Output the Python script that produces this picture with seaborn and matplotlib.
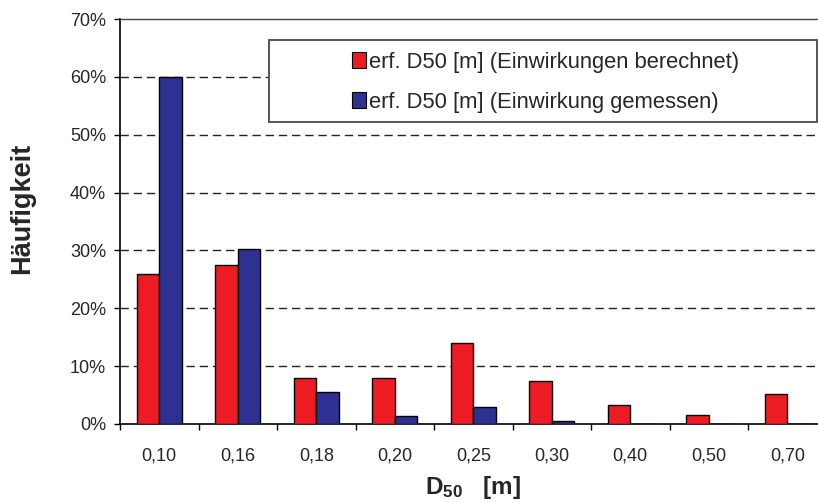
import matplotlib
matplotlib.use("Agg")
import matplotlib.pyplot as plt
from matplotlib.patches import Rectangle
from matplotlib.ticker import FuncFormatter, FixedLocator
import pandas as pd
import seaborn as sns

# D50 classes and relative frequencies in percent
categories = ["0,10", "0,16", "0,18", "0,20", "0,25", "0,30", "0,40", "0,50", "0,70"]
berechnet = [25.9, 27.4, 7.9, 7.9, 14.0, 7.5, 3.3, 1.5, 5.2]
gemessen = [60.0, 30.2, 5.6, 1.3, 2.9, 0.5, 0.0, 0.0, 0.0]
series_names = ["erf. D50 [m] (Einwirkungen berechnet)",
                "erf. D50 [m] (Einwirkung gemessen)"]
y_ticks = [0, 10, 20, 30, 40, 50, 60, 70]

df = pd.DataFrame({
    "D50": categories * 2,
    "Anteil": berechnet + gemessen,
    "Serie": [series_names[0]] * len(categories) + [series_names[1]] * len(categories),
})

sns.set_style("white")
plt.rcParams["font.family"] = ["Liberation Sans", "DejaVu Sans"]
plt.rcParams["mathtext.fontset"] = "custom"
plt.rcParams["mathtext.rm"] = "Liberation Sans"
plt.rcParams["mathtext.bf"] = "Liberation Sans:bold"
plt.rcParams["mathtext.it"] = "Liberation Sans:italic"

fig = plt.figure(figsize=(8.18, 5.03), dpi=100)
ax = fig.add_axes([120 / 818, 79 / 503, 706.5 / 818, 405 / 503])

palette = {series_names[0]: "#ED1C24", series_names[1]: "#2E3192"}
sns.barplot(data=df, x="D50", y="Anteil", hue="Serie", order=categories,
            hue_order=series_names, palette=palette, width=0.577,
            edgecolor="black", linewidth=1.0, saturation=1, ax=ax, zorder=3)

# axis ranges and ticks
ax.set_xlim(-0.5, len(categories) - 0.5)
ax.set_ylim(0, 70)
ax.set_yticks(y_ticks)
ax.yaxis.set_major_formatter(FuncFormatter(lambda v, p: f"{v:.0f}%"))
ax.tick_params(axis="y", which="major", direction="out", length=4, width=1,
               color="black", labelsize=13, pad=6, left=True)

# category boundaries carry the tick marks, labels sit at the centres
ax.xaxis.set_major_locator(FixedLocator([i - 0.5 for i in range(len(categories) + 1)]))
ax.xaxis.set_major_formatter(FuncFormatter(lambda v, p: ""))
ax.xaxis.set_minor_locator(FixedLocator(list(range(len(categories)))))
ax.set_xticklabels(categories, minor=True)
ax.tick_params(axis="x", which="major", direction="out", length=4, width=1,
               color="black", bottom=True)
ax.tick_params(axis="x", which="minor", length=0, labelsize=13, pad=17)

# dashed horizontal gridlines
ax.grid(False)
for v in y_ticks[1:-1]:
    ax.axhline(v, color="#222222", lw=1.0, dashes=(6, 3.5), zorder=1)

for side in ["left", "bottom"]:
    ax.spines[side].set_color("black")
    ax.spines[side].set_linewidth(1.2)
ax.spines["top"].set_color("#444444")
ax.spines["top"].set_linewidth(1.0)
ax.spines["right"].set_visible(False)

ax.set_xlabel(r"$\mathbf{D_{50}}$   [m]", fontsize=17.5, fontweight="bold")
ax.xaxis.set_label_coords(0.5, -0.158)
ax.xaxis.label.set_verticalalignment("center")
ax.set_ylabel("Häufigkeit", fontsize=19.5, fontweight="bold")
ax.yaxis.set_label_coords(-0.139, 0.533)
ax.yaxis.label.set_verticalalignment("center")

# legend: framed white box with the entries inside
box = Rectangle((0.211, 0.746), 0.776, 0.202, transform=ax.transAxes,
                facecolor="white", edgecolor="#555555", lw=1.4, zorder=4)
ax.add_patch(box)
old = ax.get_legend()
handles = old.legend_handles
labels = [t.get_text() for t in old.get_texts()]
old.remove()
for h in handles:
    h.set_edgecolor("black")
    h.set_linewidth(0.8)
leg = ax.legend(handles, labels, loc="center left", bbox_to_anchor=(0.328, 0.844),
                frameon=False, fontsize=15.8, handlelength=0.65, handleheight=0.7,
                handletextpad=0.15, labelspacing=0.85, borderpad=0, borderaxespad=0)
leg.set_zorder(5)

fig.savefig("out.png", dpi=100)
